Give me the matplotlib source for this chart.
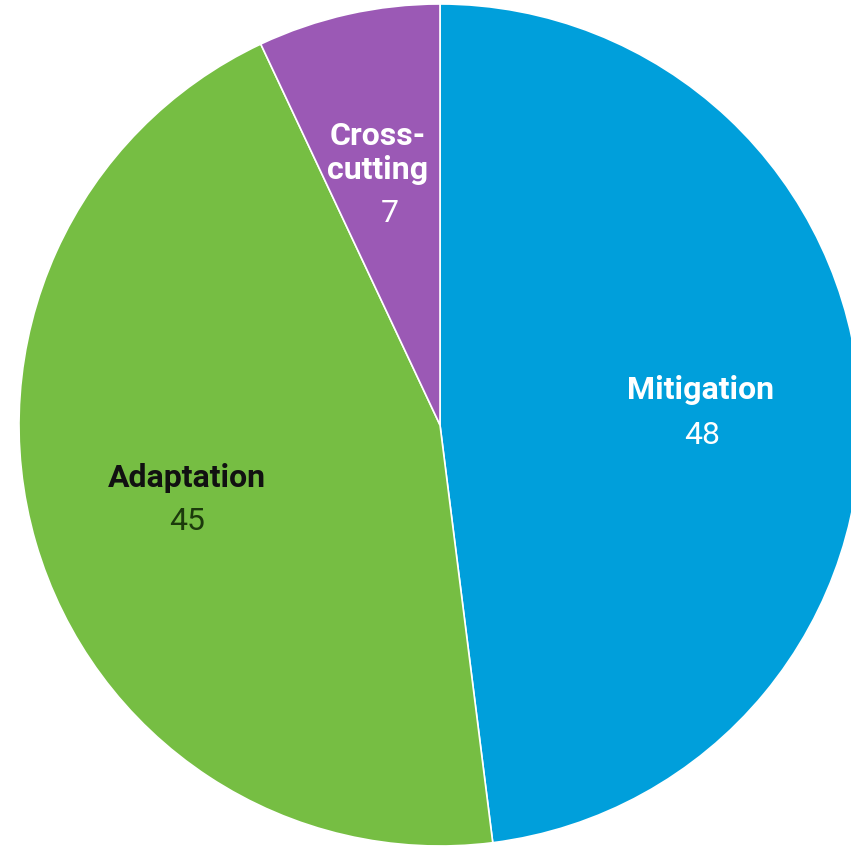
import matplotlib
matplotlib.use("Agg")
import matplotlib.pyplot as plt

# climate finance split
labels = ["Mitigation", "Adaptation", "Cross-\ncutting"]
values = [48, 45, 7]
colors = ["#009fdb", "#76be43", "#9b59b5"]
name_colors = ["white", "#111111", "white"]
num_colors = ["white", "#1c3a0c", "white"]

plt.rcParams["font.family"] = ["Roboto", "DejaVu Sans"]

fig = plt.figure(figsize=(8.51, 8.48), dpi=100)
W, H = 851, 848
cx, cy, r = 440, 425, 421
ax = fig.add_axes([(cx - r) / W, (H - cy - r) / H, 2 * r / W, 2 * r / H])

wedges, _ = ax.pie(values, colors=colors, startangle=90, counterclock=False,
                   radius=1, wedgeprops=dict(edgecolor="white", linewidth=1.2))
for w in wedges:
    w.set_clip_on(False)
ax.set_aspect("auto")
ax.set_xlim(-1, 1)
ax.set_ylim(-1, 1)
ax.axis("off")

def pos(px, py):
    return (px - cx) / r, (cy - py) / r

# label positions (pixel centres)
name_pos = [(701, 390), (187, 478), (378, 153)]
num_pos = [(702, 435), (187, 522), (390, 213)]

for i in range(len(values)):
    x, y = pos(*name_pos[i])
    ax.text(x, y, labels[i], ha="center", va="center", fontsize=23,
            fontweight="bold", color=name_colors[i], linespacing=1.2)
    x, y = pos(*num_pos[i])
    ax.text(x, y, str(values[i]), ha="center", va="center", fontsize=23,
            color=num_colors[i])

fig.savefig("out.png", dpi=100)
